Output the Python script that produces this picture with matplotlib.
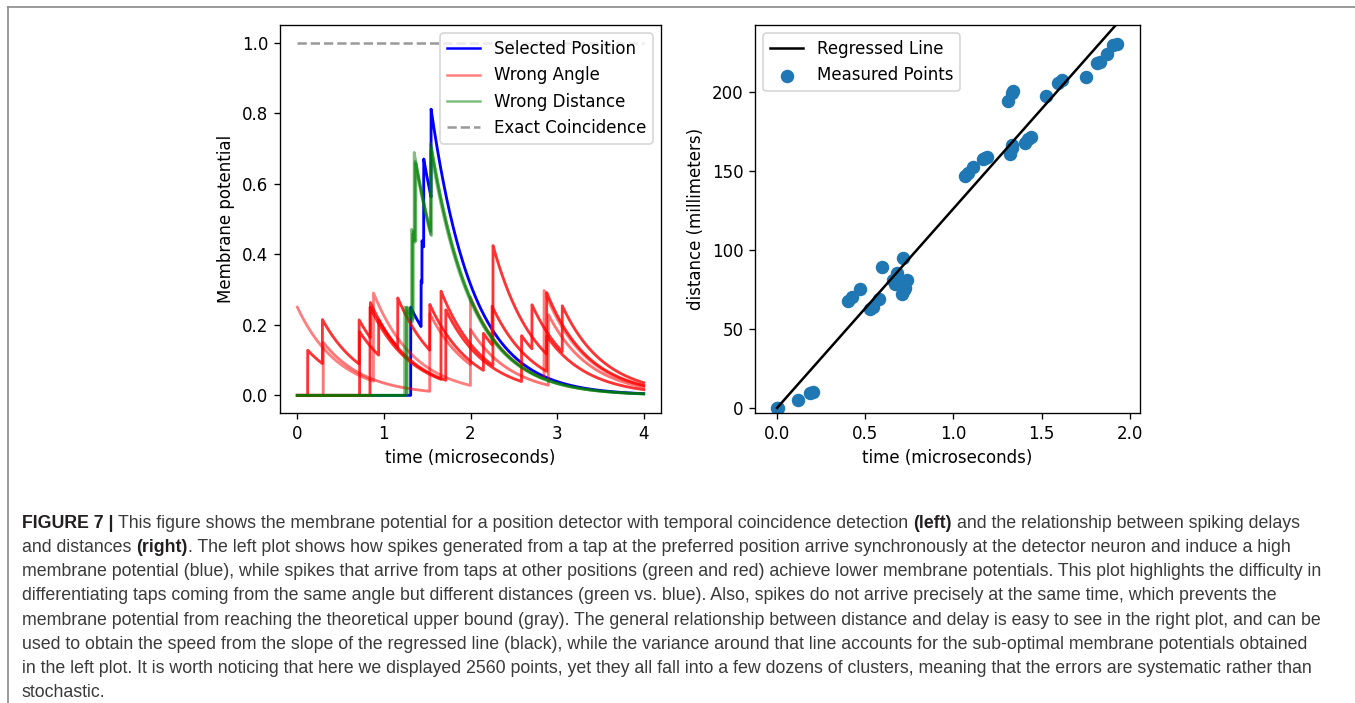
import matplotlib
matplotlib.use('Agg')
import matplotlib.pyplot as plt
from matplotlib.lines import Line2D
import numpy as np

# ---- left panel: input spikes (time, weight) ----
tau = 0.48
t = np.linspace(0, 4, 4001)

selected_spikes = [(1.31, 0.25), (1.43, 0.13), (1.44, 0.12), (1.46, 0.25), (1.545, 0.25)]

angle_spikes = [
    [(0.0, 0.25), (0.88, 0.25), (2.0, 0.25), (2.85, 0.25)],
    [(0.12, 0.128), (0.29, 0.125), (0.714, 0.125), (0.844, 0.1), (1.16, 0.14),
     (1.53, 0.13), (2.15, 0.105), (2.25, 0.11), (2.88, 0.1)],
    [(0.84, 0.25), (1.66, 0.25), (2.26, 0.34), (2.88, 0.175)],
    [(0.72, 0.18), (0.94, 0.10), (1.715, 0.2), (2.59, 0.13), (2.71, 0.125), (3.06, 0.13)],
    [(0.3, 0.15), (1.53, 0.22), (2.0, 0.1), (2.9, 0.2)],
]
angle_alpha = [0.5, 0.8, 0.8, 0.8, 0.55]

distance_spikes = [
    [(1.24, 0.25), (1.33, 0.25), (1.35, 0.25), (1.54, 0.25)],
    [(1.27, 0.25), (1.34, 0.25), (1.37, 0.22), (1.55, 0.25)],
    [(1.26, 0.25), (1.32, 0.25), (1.36, 0.23), (1.54, 0.24)],
]

# ---- right panel: measured (delay, distance) points ----
delay = [0.0, 0.007, 0.12, 0.187, 0.206, 0.404, 0.423, 0.47, 0.527, 0.546, 0.58, 0.593,
         0.659, 0.669, 0.678, 0.687, 0.706, 0.716, 0.72, 0.725, 0.735,
         1.065, 1.084, 1.112, 1.169, 1.178, 1.188, 1.31, 1.33, 1.339, 1.32, 1.33, 1.33,
         1.405, 1.424, 1.437, 1.522, 1.594, 1.613, 1.751, 1.811, 1.83, 1.868, 1.905, 1.925]
distance = [0.0, 0.0, 5.0, 9.3, 10.3, 67.7, 70.0, 75.3, 62.5, 63.7, 69.0, 89.4,
            81.0, 78.5, 85.3, 80.0, 72.2, 95.1, 74.7, 75.8, 81.0,
            147.0, 149.0, 152.7, 157.4, 158.0, 159.0, 194.5, 199.2, 200.6, 161.0, 164.4, 166.5,
            167.9, 170.0, 171.3, 197.5, 205.9, 207.6, 209.7, 218.2, 219.2, 224.0, 229.7, 230.4]

caption = [
    [("FIGURE 7 |", True), (" This figure shows the membrane potential for a position detector with temporal coincidence detection", False),
     (" (left)", True), (" and the relationship between spiking delays", False)],
    [("and distances", False), (" (right)", True),
     (". The left plot shows how spikes generated from a tap at the preferred position arrive synchronously at the detector neuron and induce a high", False)],
    [("membrane potential (blue), while spikes that arrive from taps at other positions (green and red) achieve lower membrane potentials. This plot highlights the difficulty in", False)],
    [("differentiating taps coming from the same angle but different distances (green vs. blue). Also, spikes do not arrive precisely at the same time, which prevents the", False)],
    [("membrane potential from reaching the theoretical upper bound (gray). The general relationship between distance and delay is easy to see in the right plot, and can be", False)],
    [("used to obtain the speed from the slope of the regressed line (black), while the variance around that line accounts for the sub-optimal membrane potentials obtained", False)],
    [("in the left plot. It is worth noticing that here we displayed 2560 points, yet they all fall into a few dozens of clusters, meaning that the errors are systematic rather than", False)],
    [("stochastic.", False)],
]


def potential(spikes):
    v = np.zeros_like(t)
    for ts, w in spikes:
        m = t >= ts
        v[m] += w * np.exp(-(t[m] - ts) / tau)
    return v


W, H, DPI = 1355, 703, 120
fig = plt.figure(figsize=(W / DPI, H / DPI), dpi=DPI)

ax1 = fig.add_axes([280 / W, 1 - 413 / H, 381 / W, 388 / H])
ax2 = fig.add_axes([755 / W, 1 - 413 / H, 385 / W, 388 / H])

ax1.plot(t, potential(selected_spikes), color='b', lw=1.7)
for sp, a in zip(angle_spikes, angle_alpha):
    ax1.plot(t, potential(sp), color='r', alpha=a, lw=1.7)
for sp in distance_spikes:
    ax1.plot(t, potential(sp), color='g', alpha=0.5, lw=1.7)
ax1.plot([0, 4], [1, 1], '--', color='gray', alpha=0.8)

handles = [Line2D([], [], color='b'), Line2D([], [], color='r', alpha=0.5),
           Line2D([], [], color='g', alpha=0.5), Line2D([], [], color='gray', ls='--', alpha=0.8)]
ax1.legend(handles, ['Selected Position', 'Wrong Angle', 'Wrong Distance', 'Exact Coincidence'],
           loc='upper right')
ax1.set_xlim(-0.2, 4.2)
ax1.set_ylim(-0.05, 1.05)
ax1.set_xticks([0, 1, 2, 3, 4])
ax1.set_xlabel('time (microseconds)')
ax1.set_ylabel('Membrane potential')

d = np.array(delay)
slope = np.sum(d * np.array(distance)) / np.sum(d * d)
xl = np.array([0, d.max()])
ax2.plot(xl, slope * xl, color='k', label='Regressed Line')
ax2.scatter(delay, distance, s=50, color='#1f77b4', label='Measured Points')
ax2.legend(loc='upper left')
ax2.set_xlim(-0.125, 2.057)
ax2.set_ylim(-3.2, 242.4)
ax2.set_xticks([0.0, 0.5, 1.0, 1.5, 2.0])
ax2.set_yticks([0, 50, 100, 150, 200])
ax2.set_xlabel('time (microseconds)')
ax2.set_ylabel('distance (millimeters)')

# frame lines of the page
fig.add_artist(Line2D([8 / W, 8 / W], [0, 1 - 7 / H], transform=fig.transFigure, color='#8a8a8a', lw=1))
fig.add_artist(Line2D([8 / W, 1], [1 - 7 / H, 1 - 7 / H], transform=fig.transFigure, color='#8a8a8a', lw=1))

# caption, bold and regular runs placed one after another
renderer = fig.canvas.get_renderer()
cap_family = ['Liberation Sans']
cap_size = 11.2


def text_width(s, bold, size):
    tx = fig.text(0, 0, s, family=cap_family, size=size, weight='bold' if bold else 'normal')
    w = tx.get_window_extent(renderer).width
    tx.remove()
    return w


def line_width(parts, size):
    sp = {b: text_width('a a', b, size) - text_width('aa', b, size) for b in (True, False)}
    total = 0.0
    for s, bold in parts:
        if s.startswith(' '):
            total += sp[bold]
            s = s[1:]
        total += text_width(s, bold, size)
    return total


# the first line runs from x=22 to x=1302 in the reference
cap_size = cap_size * 1271.0 / line_width(caption[0], cap_size)
space_w = {b: text_width('a a', b, cap_size) - text_width('aa', b, cap_size) for b in (True, False)}

for i, parts in enumerate(caption):
    x = 22.0
    yb = 528.3 + i * 24.06
    for s, bold in parts:
        if s.startswith(' '):
            x += space_w[bold]
            s = s[1:]
        tx = fig.text(x / W, 1 - yb / H, s, family=cap_family, size=cap_size,
                      weight='bold' if bold else 'normal', va='baseline', ha='left',
                      color='#231f20' if bold else '#3a3a3a')
        x += tx.get_window_extent(renderer).width

fig.savefig('out.png', dpi=DPI)
